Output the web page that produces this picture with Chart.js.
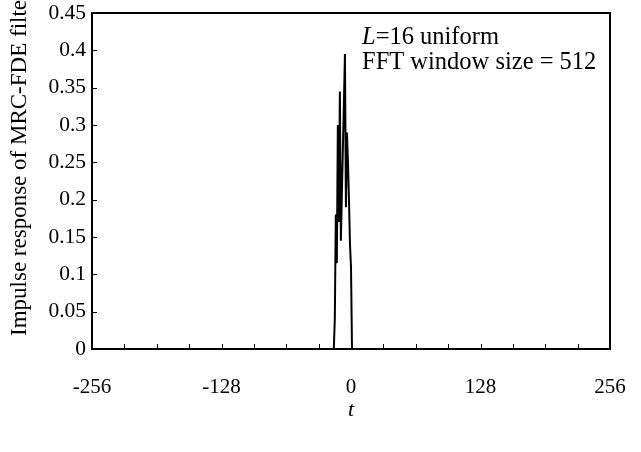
<!DOCTYPE html>
<html>
<head>
<meta charset="utf-8">
<script src="https://cdn.jsdelivr.net/npm/chart.js@4.4.0/dist/chart.umd.min.js"></script>
<style>
  html, body { margin: 0; padding: 0; background: #fff; }
  #wrap { width: 641px; height: 452px; }
</style>
</head>
<body>
<div id="wrap"><canvas id="grafico" width="641" height="452"></canvas></div>
<script>
// ===== dados =====
const tValues = [-256, -17, -16, -15, -14, -13, -12, -11, -10, -9, -8, -7, -6, -5, -4, -3, -2, -1, 0, 1, 255];
const hValues = [0, 0, 0.04, 0.18, 0.115, 0.30, 0.17, 0.345, 0.145, 0.21, 0.27, 0.33, 0.395, 0.19, 0.29, 0.25, 0.20, 0.14, 0.11, 0, 0];
const xTickLabels = [-256, -128, 0, 128, 256];
const notaLinhas = ['=16 uniform', 'FFT window size = 512'];
const tituloY = 'Impulse response of MRC-FDE filter';
const tituloX = 't';

const fonte = '"Liberation Serif", "Times New Roman", serif';

/* plugin: caixa, tracinhos internos, rotulos e textos */
const extras = {
  id: 'extras',
  afterDraw(chart) {
    const { ctx, chartArea: a, scales } = chart;
    ctx.save();
    ctx.strokeStyle = '#000';
    ctx.lineWidth = 2;
    ctx.strokeRect(a.left, a.top, a.right - a.left, a.bottom - a.top);

    ctx.lineWidth = 1;
    ctx.beginPath();
    scales.x.ticks.forEach(t => {
      const px = Math.round(scales.x.getPixelForValue(t.value)) + 0.5;
      ctx.moveTo(px, a.bottom);
      ctx.lineTo(px, a.bottom - 5);
    });
    scales.y.ticks.forEach(t => {
      const py = Math.round(scales.y.getPixelForValue(t.value)) + 0.5;
      ctx.moveTo(a.left, py);
      ctx.lineTo(a.left + 5, py);
    });
    ctx.stroke();

    ctx.fillStyle = '#000';
    ctx.textBaseline = 'middle';

    // rotulos dos eixos
    ctx.font = '21px ' + fonte;
    ctx.textAlign = 'center';
    scales.x.ticks.forEach(t => {
      if (xTickLabels.includes(t.value)) {
        ctx.fillText(String(t.value), scales.x.getPixelForValue(t.value), a.bottom + 38);
      }
    });
    ctx.font = '21.5px ' + fonte;
    ctx.textAlign = 'right';
    scales.y.ticks.forEach(t => {
      ctx.fillText(String(parseFloat(t.value.toFixed(2))), a.left - 6, scales.y.getPixelForValue(t.value));
    });

    // nota no canto
    ctx.textAlign = 'left';
    ctx.font = 'italic 24.5px ' + fonte;
    ctx.fillText('L', 362, 38);
    const wL = ctx.measureText('L').width;
    ctx.font = '24.5px ' + fonte;
    ctx.fillText(notaLinhas[0], 362 + wL, 38);
    ctx.fillText(notaLinhas[1], 362, 63);

    // titulo do eixo x
    ctx.textAlign = 'center';
    ctx.font = 'italic 22px ' + fonte;
    ctx.fillText(tituloX, (a.left + a.right) / 2, 410);

    // titulo do eixo y (rodado)
    ctx.translate(20, 336);
    ctx.rotate(-Math.PI / 2);
    ctx.textAlign = 'left';
    ctx.font = '23px ' + fonte;
    ctx.fillText(tituloY, 0, 0);
    ctx.restore();
  }
};

const ctx1 = document.getElementById('grafico');

new Chart(ctx1, {
  type: 'scatter',
  data: {
    datasets: [{
      data: tValues.map((t, i) => ({ x: t, y: hValues[i] })),
      showLine: true,
      borderColor: '#000',
      borderWidth: 2,
      pointRadius: 0,
      tension: 0
    }]
  },
  options: {
    responsive: false,
    animation: false,
    layout: { padding: { top: 13, right: 31, left: 0, bottom: 0 } },
    plugins: { legend: { display: false }, tooltip: { enabled: false } },
    scales: {
      x: {
        type: 'linear',
        min: -256,
        max: 256,
        grid: { display: false, drawTicks: false },
        border: { display: false },
        afterFit(s) { s.height = 103; },
        ticks: { stepSize: 32, autoSkip: false, display: false }
      },
      y: {
        min: 0,
        max: 0.45,
        grid: { display: false, drawTicks: false },
        border: { display: false },
        afterFit(s) { s.width = 92; },
        ticks: { stepSize: 0.05, display: false }
      }
    }
  },
  plugins: [extras]
});
</script>
</body>
</html>
